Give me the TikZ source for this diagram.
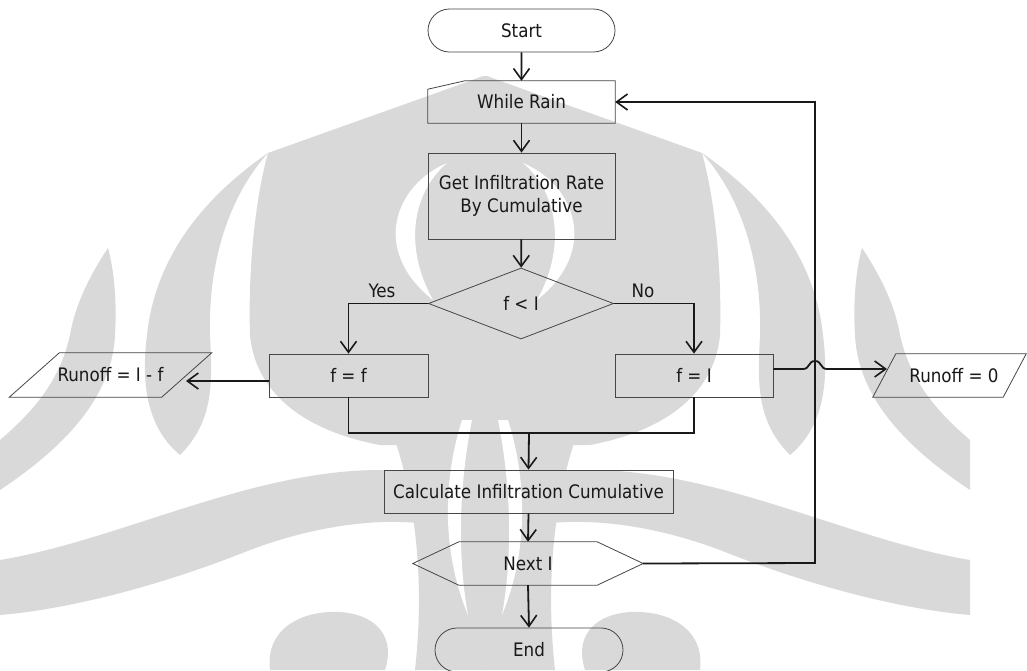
\documentclass[tikz,border=0pt]{standalone}
\usepackage{fontspec}
\setmainfont{DejaVu Sans Condensed}
\usetikzlibrary{arrows.meta,shapes.geometric,shapes.misc,calc}

\definecolor{wm}{RGB}{217,217,217}
\definecolor{ink}{RGB}{25,25,25}
\definecolor{edge}{RGB}{70,70,70}

\tikzset{
  lbl/.style={font=\fontsize{18.6}{23}\selectfont, text=ink},
  stepbox/.style={lbl, draw=edge, line width=0.8pt, rectangle, inner sep=0pt, align=center},
  ghost/.style={lbl, rectangle, inner sep=0pt, align=center},
  term/.style={lbl, draw=edge, line width=0.8pt, rounded rectangle, inner sep=0pt},
  decide/.style={lbl, draw=edge, line width=0.8pt, diamond, inner sep=0pt},
  outline/.style={draw=edge, line width=0.8pt, line join=miter},
  wire/.style={draw=ink, line width=1.8pt},
  conn/.style={wire, -{Straight Barb[length=11pt,width=16pt,line width=1.6pt]}},
}

% one half of the background emblem; drawn again mirrored about x = 485
\newcommand{\emblemhalf}{%
  % outer crescent
  \fill[wm] (108,248) .. controls (90,275) and (75,305) .. (70,335)
    .. controls (60,380) and (35,410) .. (0,440) -- (0,490)
    .. controls (60,450) and (112,400) .. (115,335)
    .. controls (117,300) and (114,270) .. (108,248) -- cycle;
  % middle crescent
  \fill[wm] (268,153) .. controls (200,200) and (155,260) .. (147,335)
    .. controls (140,390) and (150,430) .. (180,455)
    .. controls (215,420) and (212,380) .. (210,335)
    .. controls (208,260) and (230,195) .. (268,153) -- cycle;
  % dome
  \fill[wm] (486,76) -- (483,76) .. controls (440,92) and (360,120) .. (268,153)
    .. controls (255,200) and (248,270) .. (250,335)
    .. controls (255,390) and (300,430) .. (380,445)
    -- (486,445) -- cycle;
  % trunk
  \fill[wm] (486,440) -- (395,440) .. controls (415,500) and (425,580) .. (415,670)
    -- (486,670) -- cycle;
  % lower wings
  \fill[wm] (0,560) .. controls (120,540) and (250,470) .. (380,470)
    .. controls (430,470) and (470,480) .. (486,490) -- (486,540)
    .. controls (420,510) and (330,520) .. (250,550)
    .. controls (150,590) and (60,610) .. (0,615) -- cycle;
  \fill[wm] (270,670) .. controls (265,630) and (300,610) .. (340,612)
    .. controls (380,615) and (395,640) .. (385,670) -- cycle;
  % white stripes cut into the emblem
  \fill[white] (447,163) .. controls (395,185) and (370,250) .. (433,300)
    .. controls (405,250) and (410,195) .. (447,163) -- cycle;
  \fill[white] (462,420) .. controls (440,490) and (445,560) .. (468,615)
    .. controls (458,560) and (458,490) .. (472,420) -- cycle;
}

\begin{document}
\begin{tikzpicture}[x=1pt, y=-1pt]
  \useasboundingbox (0,0) rectangle (1027,670);
  \fill[white] (0,0) rectangle (1027,670);

  % background emblem
  \emblemhalf
  \begin{scope}[shift={(970,0)}, xscale=-1]
    \emblemhalf
  \end{scope}

  % process steps
  \node[term, minimum width=187pt, minimum height=43pt] (start) at (521.5,30.5) {Start};
  \node[ghost, minimum width=187pt, minimum height=42pt] (while) at (521.5,102) {While Rain};
  \draw[outline] ($(while.south west)+(0,-34)$) -- ($(while.north west)+(37,0)$)
     -- (while.north east) -- (while.south east) -- (while.south west) -- cycle;
  \node[stepbox, minimum width=187pt, minimum height=86pt] (get) at (521.5,196)
     {Get Infiltration Rate\\By Cumulative};
  \node[decide, minimum width=185pt, minimum height=71pt] (dec) at (521,303.5) {f < I};
  \node[stepbox, minimum width=159pt, minimum height=43pt] (ff) at (348.5,375.5) {f = f};
  \node[stepbox, minimum width=158pt, minimum height=43pt] (fi) at (694,375.5) {f = I};

  % output parallelograms
  \node[ghost, minimum width=152pt, minimum height=44pt] (runl) at (110.5,375) {Runoff = I - f};
  \draw[outline] ($(runl.north west)+(25,0)$) -- ($(runl.north east)+(25,0)$)
     -- ($(runl.south east)+(-25,0)$) -- ($(runl.south west)+(-25,0)$) -- cycle;
  \node[ghost, minimum width=130pt, minimum height=43pt] (runr) at (949.5,375.5) {};
  \draw[outline] ($(runr.north west)+(11.5,0)$) -- ($(runr.north east)+(11.5,0)$)
     -- ($(runr.south east)+(-11.5,0)$) -- ($(runr.south west)+(-11.5,0)$) -- cycle;
  \node[lbl] at (954,375.5) {Runoff = 0};

  \node[stepbox, minimum width=289pt, minimum height=43pt] (calc) at (528.5,491.5)
     {Calculate Infiltration Cumulative};
  \node[ghost, minimum width=230pt, minimum height=43pt] (next) at (528,563.5) {Next I};
  \draw[outline] (next.west) -- ($(next.north west)+(46,0)$) -- ($(next.north east)+(-46,0)$)
     -- (next.east) -- ($(next.south east)+(-46,0)$) -- ($(next.south west)+(46,0)$) -- cycle;
  \node[term, minimum width=188pt, minimum height=44pt] (end) at (529,650) {End};

  % branch labels
  \node[lbl] at (382,291) {Yes};
  \node[lbl] at (643,291) {No};

  % connectors
  \coordinate (merge) at (529,433);
  \coordinate (loop) at (815,563);
  \draw[conn] (start) -- (while);
  \draw[conn] (while) -- (get);
  \draw[conn] (get) -- (dec);
  \draw[conn] (dec.west) -| (ff.north);
  \draw[conn] (dec.east) -| (fi.north);
  \draw[conn] ($(ff.west)+(0,5.5)$) -- (186,381);
  \draw[conn] ($(fi.east)+(0,-6.5)$) -- (803,369)
     .. controls (810,369) and (808,361) .. (815,361)
     .. controls (822,361) and (820,369) .. (827,369) -- (887,369);
  \draw[wire] (ff.south) |- (merge) -| (fi.south);
  \draw[conn] (merge) -- (calc.north);
  \draw[conn] (calc.south) -- (next.north);
  \draw[conn] (next.south) -- (end.north);
  \draw[conn] (next.east) -- (loop) |- (while.east);
\end{tikzpicture}
\end{document}
